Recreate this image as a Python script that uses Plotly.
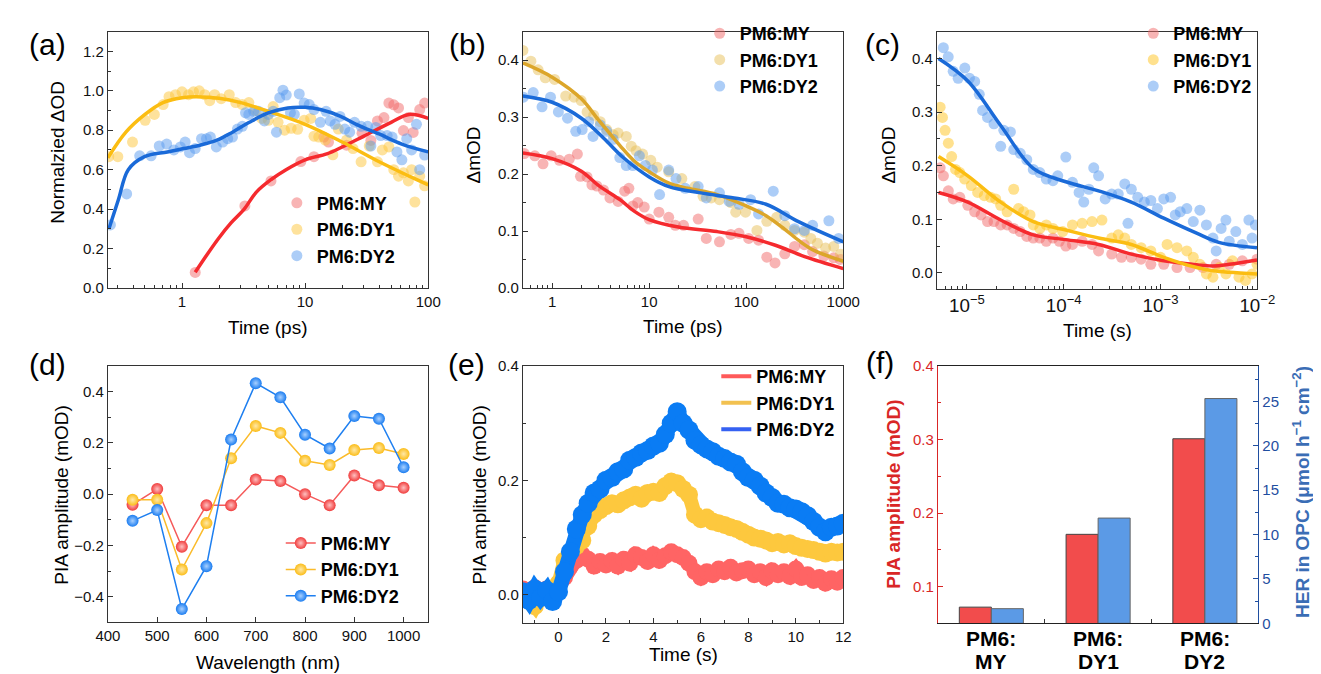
import plotly.graph_objects as go

W, H = 1321, 674
FONT = "Liberation Sans, Arial, sans-serif"

# ---------------- (a) normalized kinetics, ps ----------------
a_my_t = [1.28, 3.24, 5.28, 9.23, 11.8, 14.2, 15.5, 21.7, 29.0, 34.2, 38.7, 43.7, 47.9, 52.5, 57.4, 62.9, 69.0, 75.5, 85.3, 93.5]
a_my_v = [0.079, 0.416, 0.543, 0.641, 0.666, 0.765, 0.74, 0.724, 0.785, 0.748, 0.847, 0.864, 0.9375, 0.929, 0.913, 0.798, 0.864, 0.789, 0.905, 0.9375]
a_dy1_t = [0.254, 0.301, 0.396, 0.502, 0.596, 0.703, 0.784, 0.885, 1.0, 1.13, 1.24, 1.38, 1.53, 1.68, 1.84, 2.08, 2.42, 2.73, 3.09, 3.49,
           3.94, 4.45, 5.02, 5.5, 6.03, 6.81, 7.7, 8.7, 9.82, 11.1, 11.8, 12.9, 14.6, 16.8, 18.6, 21.7, 24.5, 28.5, 33.2, 38.7,
           42.4, 47.9, 52.5, 57.4, 62.9, 69.0, 73.3, 77.9, 85.3, 93.5]
a_dy1_v = [0.666, 0.666, 0.74, 0.85, 0.88, 0.93, 0.97, 0.98, 0.995, 0.98, 0.995, 1.0, 0.98, 0.95, 0.98, 0.96, 0.98, 0.94, 0.93, 0.94,
           0.90, 0.86, 0.85, 0.92, 0.84, 0.80, 0.81, 0.805, 0.85, 0.86, 0.77, 0.765, 0.75, 0.675, 0.806, 0.75, 0.707, 0.64, 0.72, 0.64,
           0.70, 0.715, 0.60, 0.567, 0.584, 0.543, 0.60, 0.436, 0.567, 0.518]
a_dy2_t = [0.262, 0.355, 0.453, 0.561, 0.653, 0.751, 0.859, 0.97, 1.06, 1.15, 1.28, 1.44, 1.58, 1.70, 1.90, 2.14, 2.35, 2.57, 2.82, 3.09,
           3.28, 3.49, 3.82, 4.19, 4.67, 5.02, 5.5, 5.85, 6.22, 6.61, 7.03, 7.6, 8.18, 8.96, 9.82, 10.8, 11.8, 13.3, 14.8, 16.0,
           17.5, 19.2, 21.0, 23.0, 25.2, 28.5, 32.2, 34.2, 37.5, 41.1, 46.4, 50.9, 55.7, 61.1, 66.9, 73.3, 80.3, 85.3, 93.5]
a_dy2_v = [0.32, 0.477, 0.67, 0.67, 0.72, 0.73, 0.70, 0.715, 0.74, 0.686, 0.707, 0.757, 0.757, 0.765, 0.715, 0.74, 0.757, 0.765, 0.806, 0.82,
           0.888, 0.88, 0.896, 0.896, 0.847, 0.88, 0.896, 0.79, 0.965, 1.003, 0.978, 0.888, 0.88, 0.984, 0.9375, 0.93, 0.905, 0.84, 0.896, 0.847,
           0.83, 0.87, 0.806, 0.79, 0.84, 0.82, 0.82, 0.72, 0.814, 0.773, 0.773, 0.765, 0.69, 0.65, 0.757, 0.70, 0.83, 0.60, 0.674]
a_my_fit_t = [1.28, 1.6, 2.0, 2.5, 3.2, 4.0, 5.3, 7, 10, 15, 20, 30, 50, 70, 100]
a_my_fit_v = [0.08, 0.17, 0.255, 0.33, 0.40, 0.485, 0.55, 0.60, 0.65, 0.68, 0.715, 0.77, 0.84, 0.88, 0.86]
a_dy1_fit_t = [0.25, 0.35, 0.5, 0.7, 1.0, 1.3, 2, 3, 5, 10, 20, 40, 70, 100]
a_dy1_fit_v = [0.66, 0.79, 0.88, 0.94, 0.965, 0.97, 0.962, 0.94, 0.896, 0.83, 0.74, 0.64, 0.567, 0.523]
a_dy2_fit_t = [0.255, 0.305, 0.366, 0.496, 0.76, 1.03, 1.4, 1.9, 2.57, 3.49, 5.02, 7.23, 10, 13.3, 19.2, 26, 39.9, 61, 100]
a_dy2_fit_v = [0.30, 0.45, 0.60, 0.666, 0.69, 0.707, 0.724, 0.748, 0.79, 0.839, 0.888, 0.913, 0.916, 0.905, 0.872, 0.83, 0.781, 0.73, 0.69]

# ---------------- (b) ΔmOD, ps ----------------
b_my_t = [0.517, 0.663, 0.805, 0.977, 1.19, 1.50, 1.82, 1.96, 2.29, 2.57, 2.89, 3.38, 3.94, 4.79, 5.59, 6.18, 6.79, 7.62, 8.9, 10.0,
          12.6, 15.9, 18.6, 22.6, 32.0, 38.8, 53.0, 69.5, 84.3, 106, 134, 163, 198, 250, 315, 397, 483, 632, 798, 933]
b_my_v = [0.236, 0.232, 0.218, 0.232, 0.224, 0.226, 0.235, 0.196, 0.195, 0.181, 0.179, 0.172, 0.158, 0.152, 0.170, 0.175, 0.144, 0.150, 0.142, 0.121,
          0.133, 0.124, 0.110, 0.110, 0.121, 0.087, 0.081, 0.094, 0.096, 0.087, 0.084, 0.054, 0.044, 0.060, 0.073, 0.076, 0.064, 0.056, 0.053, 0.050]
b_dy1_t = [0.5, 0.604, 0.717, 0.85, 1.06, 1.38, 1.68, 1.99, 2.29, 2.68, 3.13, 3.65, 4.26, 4.79, 5.81, 6.53, 7.33, 8.56, 10.4, 12.1,
           15.9, 21.7, 29.6, 35.9, 43.6, 53.0, 69.5, 78.0, 98.4, 129, 163, 206, 250, 315, 397, 464, 542, 658, 798, 933]
b_dy1_v = [0.417, 0.398, 0.383, 0.369, 0.366, 0.337, 0.335, 0.329, 0.309, 0.303, 0.292, 0.278, 0.269, 0.272, 0.266, 0.249, 0.241, 0.235, 0.224, 0.212,
           0.204, 0.192, 0.178, 0.161, 0.158, 0.155, 0.150, 0.133, 0.133, 0.101, 0.117, 0.124, 0.110, 0.101, 0.098, 0.087, 0.0785, 0.070, 0.073, 0.059]
b_dy2_t = [0.506, 0.638, 0.787, 0.962, 1.16, 1.44, 1.75, 2.04, 2.38, 2.64, 3.13, 3.65, 4.26, 4.98, 5.81, 6.79, 7.93, 9.12, 10.8, 12.8,
           15.9, 18.9, 23.5, 32.0, 38.8, 53.0, 66.8, 84.3, 111, 134, 190, 250, 315, 397, 483, 711, 897]
b_dy2_v = [0.335, 0.343, 0.318, 0.335, 0.309, 0.298, 0.275, 0.278, 0.292, 0.266, 0.286, 0.275, 0.261, 0.229, 0.215, 0.215, 0.232, 0.215, 0.207, 0.164,
           0.207, 0.192, 0.175, 0.178, 0.158, 0.167, 0.152, 0.147, 0.155, 0.130, 0.170, 0.127, 0.104, 0.101, 0.110, 0.118, 0.087]
b_my_fit_t = [0.5, 1, 2, 3, 5, 7, 10, 20, 50, 100, 200, 400, 1000]
b_my_fit_v = [0.237, 0.227, 0.205, 0.18, 0.155, 0.135, 0.12, 0.107, 0.099, 0.090, 0.075, 0.055, 0.034]
b_dy1_fit_t = [0.5, 1, 2, 3, 5, 7, 10, 16, 25, 50, 100, 160, 250, 350, 500, 1000]
b_dy1_fit_v = [0.395, 0.37, 0.332, 0.295, 0.25, 0.223, 0.204, 0.184, 0.175, 0.164, 0.144, 0.127, 0.103, 0.083, 0.066, 0.047]
b_dy2_fit_t = [0.5, 1, 2, 3.4, 5.4, 10, 16, 34, 75, 160, 350, 1000]
b_dy2_fit_v = [0.337, 0.326, 0.298, 0.263, 0.229, 0.195, 0.178, 0.167, 0.158, 0.147, 0.116, 0.081]

# ---------------- (c) ΔmOD, s ----------------
c_my_t = [5.28e-6, 5.71e-6, 6.42e-6, 7.2e-6, 8.43e-6, 1.02e-5, 1.2e-5, 1.4e-5, 1.63e-5, 1.9e-5, 2.23e-5, 2.6e-5, 3.04e-5, 3.55e-5, 4.15e-5,
          4.84e-5, 5.66e-5, 6.6e-5, 7.73e-5, 9.0e-5, 1.05e-4, 1.23e-4, 1.55e-4, 1.96e-4, 2.29e-4, 3.13e-4, 3.95e-4, 4.99e-4, 6.3e-4, 7.94e-4,
          1.08e-3, 1.48e-3, 2.02e-3, 2.75e-3, 3.76e-3, 5.13e-3, 7.0e-3, 9.93e-3]
c_my_v = [0.196, 0.181, 0.153, 0.138, 0.141, 0.126, 0.114, 0.108, 0.0956, 0.0956, 0.0895, 0.0895, 0.083, 0.077, 0.068,
          0.065, 0.065, 0.059, 0.065, 0.059, 0.050, 0.053, 0.059, 0.053, 0.041, 0.035, 0.029, 0.029, 0.0256, 0.016,
          0.016, 0.010, 0.010, 0.010, 0.016, 0.016, 0.0225, 0.0256]
c_dy1_t = [5.28e-6, 5.58e-6, 5.94e-6, 6.42e-6, 6.94e-6, 7.62e-6, 8.43e-6, 9.46e-6, 1.11e-5, 1.29e-5, 1.51e-5, 1.76e-5, 1.98e-5, 2.23e-5, 2.6e-5,
           3.04e-5, 3.41e-5, 3.84e-5, 4.48e-5, 4.84e-5, 5.66e-5, 6.6e-5, 7.73e-5, 9.75e-5, 1.23e-4, 1.55e-4, 1.96e-4, 2.48e-4, 3.13e-4, 3.66e-4,
           4.27e-4, 4.99e-4, 6.3e-4, 7.94e-4, 1.0e-3, 1.17e-3, 1.48e-3, 1.87e-3, 2.18e-3, 2.55e-3, 2.98e-3, 3.48e-3, 4.06e-3, 4.74e-3, 5.54e-3,
           6.47e-3, 7.56e-3, 8.83e-3, 9.93e-3]
c_dy1_v = [0.309, 0.29, 0.266, 0.242, 0.217, 0.193, 0.187, 0.175, 0.163, 0.150, 0.144, 0.141, 0.138, 0.126, 0.114,
           0.156, 0.12, 0.114, 0.108, 0.0895, 0.083, 0.0895, 0.083, 0.077, 0.0895, 0.0925, 0.0956, 0.0986, 0.065, 0.071,
           0.065, 0.053, 0.047, 0.041, 0.029, 0.053, 0.047, 0.041, 0.029, 0.016, -0.002, -0.008, 0.010, -0.002, 0.0225,
           -0.008, -0.014, -0.002, 0.016]
c_dy2_t = [5.7e-6, 6.4e-6, 7.2e-6, 8.1e-6, 9.5e-6, 1.06e-5, 1.2e-5, 1.34e-5, 1.45e-5, 1.63e-5, 1.9e-5, 2.23e-5, 2.4e-5, 2.81e-5, 3.04e-5,
           3.55e-5, 4.15e-5, 4.84e-5, 5.66e-5, 6.6e-5, 7.73e-5, 8.67e-5, 1.05e-4, 1.23e-4, 1.44e-4, 1.61e-4, 1.82e-4, 2.04e-4, 2.29e-4, 2.68e-4,
           3.13e-4, 3.66e-4, 4.27e-4, 4.61e-4, 4.99e-4, 5.82e-4, 6.81e-4, 7.94e-4, 9.29e-4, 1.08e-3, 1.27e-3, 1.42e-3, 1.6e-3, 1.87e-3, 2.18e-3,
           2.55e-3, 2.98e-3, 3.48e-3, 3.76e-3, 4.23e-3, 4.74e-3, 5.13e-3, 6.0e-3, 7.0e-3, 8.18e-3, 8.83e-3, 9.55e-3]
c_dy2_v = [0.42, 0.403, 0.376, 0.363, 0.382, 0.363, 0.357, 0.333, 0.303, 0.29, 0.278, 0.236, 0.266, 0.263, 0.23,
           0.223, 0.211, 0.193, 0.187, 0.175, 0.172, 0.181, 0.216, 0.169, 0.150, 0.132, 0.156, 0.196, 0.181, 0.138,
           0.147, 0.147, 0.166, 0.0925, 0.156, 0.141, 0.132, 0.135, 0.12, 0.138, 0.141, 0.108, 0.114, 0.12, 0.0956,
           0.117, 0.0895, 0.065, 0.041, 0.083, 0.0986, 0.059, 0.077, 0.053, 0.0986, 0.065, 0.0895]
c_fit_t = [5.08e-6, 1.02e-5, 2.23e-5, 4.84e-5, 1.05e-4, 2.29e-4, 4.99e-4, 1.08e-3, 2.36e-3, 3.48e-3, 5.13e-3, 9.93e-3]
c_my_fit_v = [0.150, 0.132, 0.0986, 0.071, 0.062, 0.053, 0.035, 0.0225, 0.015, 0.013, 0.016, 0.024]
c_dy1_fit_v = [0.217, 0.181, 0.132, 0.0956, 0.08, 0.065, 0.053, 0.029, 0.010, 0.004, 0.001, -0.002]
c_dy2_fit_t = [5.08e-6, 1.02e-5, 2.23e-5, 4.84e-5, 1.05e-4, 2.29e-4, 4.99e-4, 1.08e-3, 2.36e-3, 4.0e-3, 9.93e-3]
c_dy2_fit_v = [0.40, 0.358, 0.275, 0.195, 0.170, 0.153, 0.132, 0.102, 0.074, 0.057, 0.047]

# ---------------- (d) PIA spectra ----------------
d_wl = [450, 500, 550, 600, 650, 700, 750, 800, 850, 900, 950, 1000]
d_my = [-0.041, 0.020, -0.205, -0.043, -0.043, 0.057, 0.051, 0.0, -0.043, 0.073, 0.035, 0.025]
d_dy1 = [-0.022, -0.022, -0.294, -0.113, 0.14, 0.266, 0.239, 0.13, 0.114, 0.172, 0.18, 0.157]
d_dy2 = [-0.104, -0.062, -0.448, -0.281, 0.213, 0.433, 0.378, 0.232, 0.178, 0.305, 0.294, 0.105]

# ---------------- (e) PIA transients ----------------
e_t = [-1.5, -1.25, -1.0, -0.75, -0.5, -0.25, 0.0, 0.25, 0.5, 0.75, 1.0, 1.25, 1.5, 1.75, 2.0, 2.25, 2.5, 2.75, 3.0, 3.25,
       3.5, 3.75, 4.0, 4.25, 4.5, 4.75, 5.0, 5.25, 5.5, 5.75, 6.0, 6.25, 6.5, 6.75, 7.0, 7.25, 7.5, 7.75, 8.0, 8.25,
       8.5, 8.75, 9.0, 9.25, 9.5, 9.75, 10.0, 10.25, 10.5, 10.75, 11.0, 11.25, 11.5, 11.75, 12.0]
e_my = [0.01, 0.005, 0.012, 0.0, 0.01, 0.003, 0.01, 0.03, 0.05, 0.06, 0.07, 0.062, 0.05, 0.058, 0.052, 0.06, 0.05, 0.062, 0.055, 0.07,
        0.065, 0.058, 0.07, 0.06, 0.068, 0.075, 0.07, 0.065, 0.055, 0.04, 0.03, 0.04, 0.035, 0.045, 0.04, 0.048, 0.038, 0.042, 0.045, 0.035,
        0.04, 0.03, 0.042, 0.035, 0.04, 0.032, 0.045, 0.03, 0.035, 0.025, 0.03, 0.02, 0.028, 0.022, 0.03]
e_dy1 = [0.005, -0.01, -0.02, 0.0, -0.005, 0.005, 0.02, 0.06, 0.075, 0.085, 0.095, 0.12, 0.14, 0.148, 0.155, 0.16, 0.158, 0.165, 0.17, 0.175,
         0.168, 0.178, 0.18, 0.178, 0.19, 0.198, 0.195, 0.185, 0.175, 0.14, 0.132, 0.135, 0.128, 0.125, 0.122, 0.118, 0.115, 0.11, 0.105, 0.1,
         0.098, 0.095, 0.09, 0.092, 0.088, 0.09, 0.085, 0.082, 0.08, 0.078, 0.075, 0.072, 0.075, 0.074, 0.075]
e_dy2 = [0.005, -0.01, 0.01, -0.005, 0.008, -0.012, 0.005, 0.04, 0.075, 0.115, 0.14, 0.16, 0.178, 0.185, 0.2, 0.205, 0.215, 0.22, 0.235, 0.24,
         0.248, 0.252, 0.26, 0.265, 0.28, 0.3, 0.32, 0.3, 0.288, 0.27, 0.262, 0.255, 0.25, 0.242, 0.238, 0.232, 0.228, 0.215, 0.205, 0.2,
         0.19, 0.178, 0.17, 0.16, 0.158, 0.152, 0.15, 0.145, 0.138, 0.128, 0.118, 0.11, 0.118, 0.12, 0.125]

# ---------------- (f) bars ----------------
f_cat = ["MY", "DY1", "DY2"]
f_pia = [0.072, 0.171, 0.301]
f_her = [1.65, 11.86, 25.33]

names = ["PM6:MY", "PM6:DY1", "PM6:DY2"]


def X(p):
    return p / W


def Y(p):
    return 1 - p / H


def axis(**kw):
    d = dict(showline=True, linecolor="#333", linewidth=1.2, mirror=True, ticks="inside", ticklen=5,
             tickwidth=1.2, tickcolor="#333", showgrid=False, zeroline=False,
             tickfont=dict(size=15, color="#111", family=FONT))
    d.update(kw)
    return d


def minor(dt, n=3):
    return dict(ticks="inside", ticklen=n, tickcolor="#333", tickwidth=1, dtick=dt, showgrid=False)


def legend(x, y):
    return dict(x=X(x), y=Y(y), xanchor="left", yanchor="top", bgcolor="rgba(0,0,0,0)",
                font=dict(size=18, family=FONT, color="#000", weight="bold"), tracegroupgap=0)


fig = go.Figure()

RED_PT, RED_LN = "#f26a6a", "#f52a2e"
BLU_PT, BLU_LN = "#5a9bef", "#1a6ad8"


def pts(x, y, c, name, xa, ya, lg):
    fig.add_trace(go.Scatter(x=x, y=y, mode="markers", name=name, xaxis=xa, yaxis=ya, legend=lg,
                             marker=dict(size=11, color=c, opacity=0.5, line=dict(width=0))))


def fit(x, y, c, xa, ya):
    fig.add_trace(go.Scatter(x=x, y=y, mode="lines", showlegend=False, xaxis=xa, yaxis=ya,
                             line=dict(color=c, width=3.5, shape="spline", smoothing=1.0)))


# (a)
pts(a_my_t, a_my_v, RED_PT, names[0], "x", "y", "legend")
pts(a_dy1_t, a_dy1_v, "#fdc63a", names[1], "x", "y", "legend")
pts(a_dy2_t, a_dy2_v, BLU_PT, names[2], "x", "y", "legend")
fit(a_my_fit_t, a_my_fit_v, RED_LN, "x", "y")
fit(a_dy1_fit_t, a_dy1_fit_v, "#fbbd12", "x", "y")
fit(a_dy2_fit_t, a_dy2_fit_v, BLU_LN, "x", "y")

# (b)
pts(b_my_t, b_my_v, RED_PT, names[0], "x2", "y2", "legend2")
pts(b_dy1_t, b_dy1_v, "#e8bf58", names[1], "x2", "y2", "legend2")
pts(b_dy2_t, b_dy2_v, BLU_PT, names[2], "x2", "y2", "legend2")
fit(b_my_fit_t, b_my_fit_v, RED_LN, "x2", "y2")
fit(b_dy1_fit_t, b_dy1_fit_v, "#dca62a", "x2", "y2")
fit(b_dy2_fit_t, b_dy2_fit_v, BLU_LN, "x2", "y2")

# (c)
pts(c_my_t, c_my_v, RED_PT, names[0], "x3", "y3", "legend3")
pts(c_dy1_t, c_dy1_v, "#ffc31e", names[1], "x3", "y3", "legend3")
pts(c_dy2_t, c_dy2_v, BLU_PT, names[2], "x3", "y3", "legend3")
fit(c_fit_t, c_my_fit_v, RED_LN, "x3", "y3")
fit(c_fit_t, c_dy1_fit_v, "#fbbd12", "x3", "y3")
fit(c_dy2_fit_t, c_dy2_fit_v, BLU_LN, "x3", "y3")

# (d)
for vals, lc, mc, hl, nm in [(d_my, "#f55a5a", "#f03c3c", "#ffc0c0", names[0]),
                             (d_dy1, "#fbbb2a", "#fbbd18", "#ffe8a8", names[1]),
                             (d_dy2, "#1e7ff0", "#1a7cf0", "#a8d0ff", names[2])]:
    fig.add_trace(go.Scatter(x=d_wl, y=vals, mode="lines+markers", name=nm, xaxis="x4", yaxis="y4",
                             legend="legend4", line=dict(color=lc, width=1.5),
                             marker=dict(size=12, color=mc, gradient=dict(type="radial", color=hl),
                                         line=dict(width=0))))

# (e) thick noisy bands drawn as overlapping dots on a thick line
for vals, c, w in [(e_my, "#ff6464", 16), (e_dy1, "#fdc83e", 17), (e_dy2, "#0a7cf4", 18)]:
    fig.add_trace(go.Scatter(x=e_t, y=vals, mode="lines+markers", showlegend=False, xaxis="x5", yaxis="y5",
                             line=dict(color=c, width=w - 3), marker=dict(size=w + 1, color=c, line=dict(width=0))))
for c, nm in [("#ff5a5a", names[0]), ("#f2c150", names[1]), ("#3561f2", names[2])]:
    fig.add_trace(go.Scatter(x=[None], y=[None], mode="lines", name=nm, xaxis="x5", yaxis="y5",
                             legend="legend5", line=dict(color=c, width=4)))

# (f)
fig.add_trace(go.Bar(x=f_cat, y=f_pia, xaxis="x6", yaxis="y6", offsetgroup="1", showlegend=False,
                     marker=dict(color="#f24c4c", line=dict(color="#444", width=1))))
fig.add_trace(go.Bar(x=f_cat, y=f_her, xaxis="x6", yaxis="y7", offsetgroup="2", showlegend=False,
                     marker=dict(color="#5b9ae6", line=dict(color="#666", width=1))))

RED_AX, BLU_AX = "#d92626", "#1f4ea0"

fig.update_layout(
    width=W, height=H, margin=dict(l=0, r=0, t=0, b=0),
    paper_bgcolor="white", plot_bgcolor="white",
    font=dict(family=FONT, color="#000"),
    barmode="group", bargap=0.4, bargroupgap=0,
    xaxis=axis(domain=[X(89), X(417)], anchor="y", type="log", range=[-0.602, 2],
               tickvals=[1, 10, 100], ticktext=["1", "10", "100"], minor=minor("D1")),
    yaxis=axis(domain=[Y(278), Y(15)], anchor="x", range=[0, 1.3], dtick=0.2, tickformat=".1f", minor=minor(0.1)),
    xaxis2=axis(domain=[X(514), X(842)], anchor="y2", type="log", range=[-0.301, 3],
                tickvals=[1, 10, 100, 1000], ticktext=["1", "10", "100", "1000"], minor=minor("D1")),
    yaxis2=axis(domain=[Y(278), Y(15)], anchor="x2", range=[0, 0.45], dtick=0.1, tickformat=".1f", minor=minor(0.05)),
    xaxis3=axis(domain=[X(938), X(1266)], anchor="y3", type="log", range=[-5.31, -2], dtick=1,
                exponentformat="power", minor=minor("D1")),
    yaxis3=axis(domain=[Y(279), Y(15)], anchor="x3", range=[-0.03, 0.45], dtick=0.1, tickformat=".1f", minor=minor(0.05)),
    xaxis4=axis(domain=[X(89), X(417)], anchor="y4", range=[400, 1050], dtick=100),
    yaxis4=axis(domain=[Y(621), Y(358)], anchor="x4", range=[-0.5, 0.5], dtick=0.2, tickformat=".1f", minor=minor(0.1)),
    xaxis5=axis(domain=[X(514), X(842)], anchor="y5", range=[-1.5, 12], dtick=2, minor=minor(1)),
    yaxis5=axis(domain=[Y(622), Y(358)], anchor="x5", range=[-0.05, 0.4], dtick=0.2, tickformat=".1f", minor=minor(0.1)),
    xaxis6=axis(domain=[X(939), X(1267)], anchor="y6", type="category", range=[-0.5, 2.5], tickson="boundaries",
                ticklen=4, linecolor="#222", showticklabels=False),
    yaxis6=axis(domain=[Y(622), Y(358)], anchor="x6", range=[0.05, 0.4], dtick=0.1, tickformat=".1f",
                mirror=False, linecolor=RED_AX, tickcolor=RED_AX,
                tickfont=dict(size=15, color=RED_AX, family=FONT), minor=dict(ticks="inside", ticklen=3, tickcolor=RED_AX, dtick=0.05)),
    yaxis7=axis(overlaying="y6", side="right", anchor="x6", range=[0, 29], dtick=5, mirror=False,
                linecolor=BLU_AX, tickcolor=BLU_AX,
                tickfont=dict(size=15, color=BLU_AX, family=FONT), minor=dict(ticks="inside", ticklen=3, tickcolor=BLU_AX, dtick=2.5)),
    legend=legend(262, 172),
    legend2=legend(695, -2),
    legend3=legend(1139, -2),
    legend4=legend(266, 521),
    legend5=legend(712, 350),
)

ann = []


def text(x, y, s, size=19, angle=0, color="#000", bold=False):
    ann.append(dict(x=X(x), y=Y(y), xref="paper", yref="paper", text=s, showarrow=False, textangle=angle,
                    xanchor="center", yanchor="middle",
                    font=dict(size=size, color=color, family=FONT, weight="bold" if bold else "normal")))


for lab, x, y in [("(a)", 27, 28), ("(b)", 457, 28), ("(c)", 882, 28), ("(d)", 27, 356), ("(e)", 456, 356), ("(f)", 880, 354)]:
    text(x, y, lab, size=30)

text(253, 319, "Time (ps)")
text(37, 139, "Normalzied ΔOD", angle=-90)
text(678, 318, "Time (ps)")
text(463, 142, "ΔmOD", angle=-90)
text(1102, 322, "Time (s)")
text(888, 142, "ΔmOD", angle=-90)
text(253, 662, "Wavelength (nm)")
text(42, 490, "PIA amplitude (mOD)", angle=-90)
text(678, 654, "Time (s)")
text(470, 490, "PIA amplitude (mOD)", angle=-90)
text(894, 490, "PIA amplitude (mOD)", angle=-90, color=RED_AX, bold=True)
text(1310, 487, "HER in OPC (μmol h<sup>−1</sup> cm<sup>−2</sup>)", angle=-90, color="#3a6db5", bold=True)

# category labels of (f), placed through the category axis
for c in f_cat:
    for s, yy in [("PM6:", 638), (c, 661)]:
        ann.append(dict(x=c, xref="x6", y=Y(yy), yref="paper", text=s, showarrow=False,
                        xanchor="center", yanchor="middle",
                        font=dict(size=21, color="#000", family=FONT, weight="bold")))

fig.update_layout(annotations=ann)
fig.write_html("out.html")
